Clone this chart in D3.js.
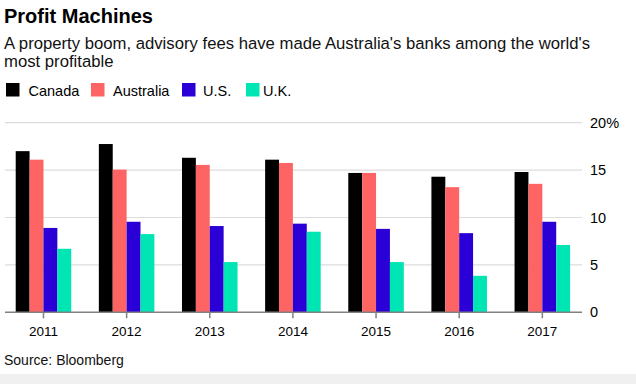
<!DOCTYPE html>
<html><head><meta charset="utf-8">
<script src="https://cdn.jsdelivr.net/npm/d3@7"></script>
<style>
body{margin:0;background:#fff;}
svg{display:block;font-family:"Liberation Sans",Arial,sans-serif;}
</style></head>
<body><svg id="c" width="636" height="384"></svg>
<script>
const years = ["2011","2012","2013","2014","2015","2016","2017"];
const seriesNames = ["Canada","Australia","U.S.","U.K."];
const canada    = [17.0, 17.75, 16.3, 16.1, 14.7, 14.3, 14.8];
const australia = [16.1, 15.05, 15.55, 15.75, 14.7, 13.2, 13.55];
const us        = [8.9, 9.55, 9.1, 9.35, 8.8, 8.35, 9.55];
const uk        = [6.7, 8.25, 5.3, 8.5, 5.3, 3.85, 7.1];
const yTicks = [0, 5, 10, 15, 20];
const colors = ["#000000","#ff6464","#2a00d6","#00e5b4"];

const seriesValues = [canada, australia, us, uk];
const svg = d3.select("#c");

svg.append("rect").attr("x",0).attr("y",374).attr("width",636).attr("height",10).attr("fill","#f0f0f0");

svg.append("text").attr("x",4).attr("y",23).attr("font-size",20).attr("font-weight","bold").text("Profit Machines");
svg.append("text").attr("x",4).attr("y",48.5).attr("font-size",16.7).attr("fill","#111")
  .text("A property boom, advisory fees have made Australia's banks among the world's");
svg.append("text").attr("x",4).attr("y",66.5).attr("font-size",16.7).attr("fill","#111").text("most profitable");

// legend
const legX = [6, 91, 182, 246];
const legT = [28.5, 113, 203, 263];
const leg = svg.append("g");
seriesNames.forEach((n,i)=>{
  leg.append("rect").attr("x",legX[i]).attr("y",83).attr("width",13.5).attr("height",13.5).attr("fill",colors[i]);
  leg.append("text").attr("x",legT[i]).attr("y",95.5).attr("font-size",14.5).text(n);
});

const y = d3.scaleLinear().domain([0,20]).range([312.3,122.7]);
const x0 = d3.scaleBand().domain(years).range([1.9,583.9]).paddingInner(0.332).paddingOuter(0.166);
const x1 = d3.scaleBand().domain(seriesNames).range([0,x0.bandwidth()]);

// grid
svg.append("g").selectAll("line").data(yTicks.filter(d=>d>0)).join("line")
  .attr("x1",5).attr("x2",582).attr("y1",d=>y(d)).attr("y2",d=>y(d))
  .attr("stroke","#dcdcdc").attr("stroke-width",1.2);

// y axis labels
svg.append("g").selectAll("text").data(yTicks).join("text")
  .attr("x",590).attr("y",d=>y(d)+5).attr("font-size",14.5)
  .text(d=>d===20?"20%":d);

// bars
const g = svg.append("g");
years.forEach((yr,j)=>{
  seriesNames.forEach((s,i)=>{
    const v = seriesValues[i][j];
    g.append("rect").attr("x",x0(yr)+x1(s)).attr("width",x1.bandwidth())
      .attr("y",y(v)).attr("height",y(0)-y(v)).attr("fill",colors[i]);
  });
});

// x axis
const xa = svg.append("g").attr("transform","translate(0,312.3)");
xa.append("line").attr("x1",5).attr("x2",582).attr("y1",0).attr("y2",0).attr("stroke","#808080").attr("stroke-width",1.5);
xa.selectAll(".t").data(years).join("line").attr("class","t")
  .attr("x1",d=>x0(d)+x0.bandwidth()/2).attr("x2",d=>x0(d)+x0.bandwidth()/2)
  .attr("y1",0).attr("y2",6).attr("stroke","#808080").attr("stroke-width",1.5);
xa.selectAll("text").data(years).join("text")
  .attr("x",d=>x0(d)+x0.bandwidth()/2).attr("y",24).attr("text-anchor","middle").attr("font-size",13.5)
  .text(d=>d);

svg.append("text").attr("x",4).attr("y",365).attr("font-size",14).attr("fill","#111").text("Source: Bloomberg");
</script></body></html>
